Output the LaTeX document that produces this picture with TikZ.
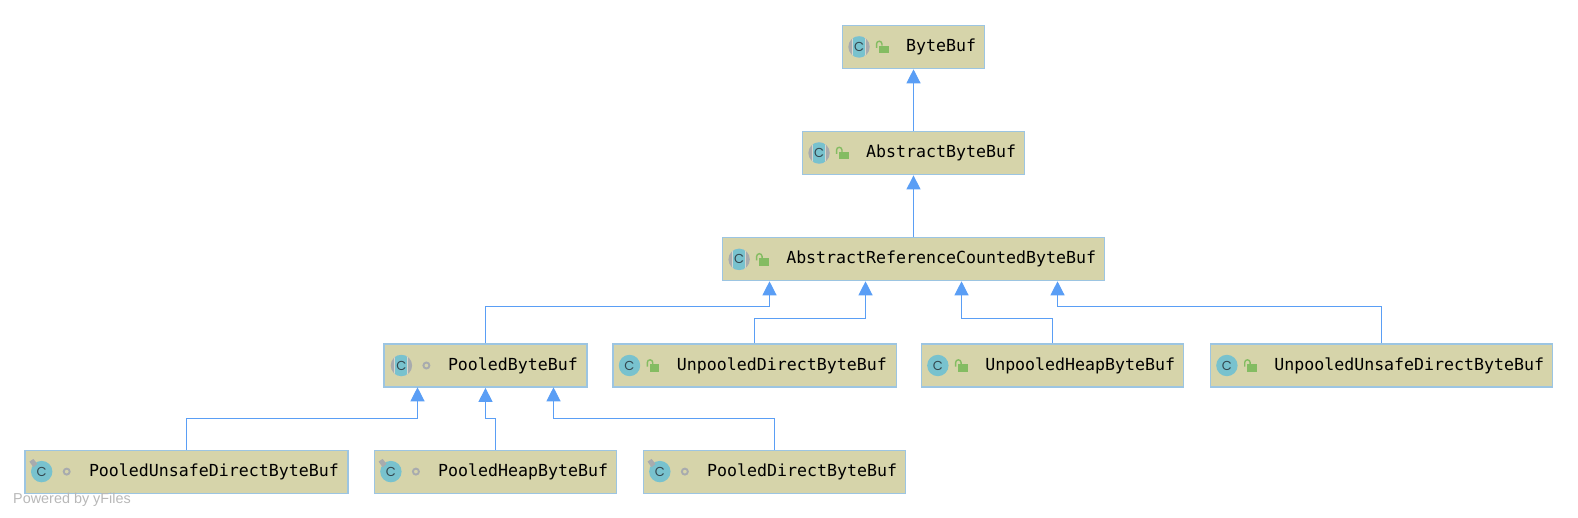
\documentclass[tikz,border=0pt]{standalone}
\usepackage{fontspec}
\setmainfont{Liberation Sans}
\newfontfamily\codefont{DejaVu Sans Mono}
\newfontfamily\iconfont{Poppins}
\usetikzlibrary{arrows.meta}
\definecolor{boxfill}{HTML}{D6D4AA}
\definecolor{boxedge}{HTML}{9CC5E2}
\definecolor{linkblue}{HTML}{5A9EF5}
\definecolor{tealc}{HTML}{78C2CE}
\definecolor{lockgreen}{HTML}{84BC62}
\definecolor{markgrey}{HTML}{A8ABAE}
\definecolor{cletter}{HTML}{33474F}
\newcommand{\boxtext}[2]{\makebox[#1pt][l]{\hspace{64pt}\vphantom{Ap}#2}}
\tikzset{
  x=1pt,y=-1pt,
  cls/.style={draw=boxedge,fill=boxfill,line width=1.2pt,inner sep=0pt,minimum height=43pt,font=\codefont\fontsize{16.6pt}{20pt}\selectfont,text=black},
  ext/.style={draw=linkblue,line width=1.2pt,shorten >=0.3pt,-{Triangle[length=14pt,width=14pt,color=linkblue]}},
  cletter/.style={font=\iconfont\fontsize{13pt}{14pt}\selectfont,text=cletter,inner sep=0pt},
  lockicon/.pic={
    \fill[lockgreen] (-4.7,-1.2) rectangle (4.7,6.3);
    \draw[lockgreen,line width=1.4pt] (-7.3,1) -- (-7.3,-3) arc[start angle=180,end angle=0,x radius=2.7,y radius=-2.7] -- (-1.9,-1.2);
  },
  ringicon/.pic={
    \draw[markgrey,line width=1.9pt] (0,0) circle[radius=3];
  },
  plainc/.pic={
    \fill[tealc] (0,0) circle[radius=10.7];
    \node[cletter] (-c) at (0,0) {C};
  },
  abstractc/.pic={
    \fill[markgrey] (0,0) circle[radius=10.7];
    \begin{scope}
      \clip (0,0) circle[radius=10.7];
      \fill[boxfill!40!markgrey!60!white] (-7,-11) rectangle (7,11);
      \fill[tealc] (-6,-11) rectangle (6,11);
    \end{scope}
    \node[cletter] (-c) at (0,0) {C};
  },
  pinc/.pic={
    \fill[tealc] (0,0) circle[radius=10.7];
    \fill[markgrey] (-12.3,-10) -- (-8.3,-12.7) -- (-4.3,-7.7) -- (-8.3,-4.3) -- cycle;
    \node[cletter] (-c) at (0,0) {C};
  },
}
\begin{document}
\begin{tikzpicture}
\useasboundingbox (0,0) rectangle (1578,518);
% level boxes
\node[cls] (bytebuf) at (913.5,46.9) {\boxtext{142.7}{ByteBuf}};
\node[cls] (abstract) at (913.5,153) {\boxtext{222.7}{AbstractByteBuf}};
\node[cls] (refcounted) at (913.5,259.4) {\boxtext{382.5}{AbstractReferenceCountedByteBuf}};
\node[cls] (pooled) at (485.5,365.5) {\boxtext{203}{PooledByteBuf}};
\node[cls] (updirect) at (754.5,365.5) {\boxtext{283.2}{UnpooledDirectByteBuf}};
\node[cls] (upheap) at (1052.5,365.5) {\boxtext{262.5}{UnpooledHeapByteBuf}};
\node[cls] (upunsafe) at (1381.5,365.5) {\boxtext{342.4}{UnpooledUnsafeDirectByteBuf}};
\node[cls] (punsafe) at (186.5,471.6) {\boxtext{323}{PooledUnsafeDirectByteBuf}};
\node[cls] (pheap) at (495.5,471.6) {\boxtext{242.6}{PooledHeapByteBuf}};
\node[cls] (pdirect) at (774.5,471.6) {\boxtext{262.7}{PooledDirectByteBuf}};
% icons
\pic (i1) at ([xshift=17.5pt]bytebuf.west) {abstractc};
\pic at ([xshift=42.3pt]bytebuf.west) {lockicon};
\pic (i2) at ([xshift=17.5pt]abstract.west) {abstractc};
\pic at ([xshift=42.3pt]abstract.west) {lockicon};
\pic (i3) at ([xshift=17.5pt]refcounted.west) {abstractc};
\pic at ([xshift=42.3pt]refcounted.west) {lockicon};
\pic (i4) at ([xshift=18pt]pooled.west) {abstractc};
\pic at ([xshift=43pt]pooled.west) {ringicon};
\pic (i5) at ([xshift=17.2pt]updirect.west) {plainc};
\pic at ([xshift=42.3pt]updirect.west) {lockicon};
\pic (i6) at ([xshift=17.2pt]upheap.west) {plainc};
\pic at ([xshift=42.3pt]upheap.west) {lockicon};
\pic (i7) at ([xshift=17.2pt]upunsafe.west) {plainc};
\pic at ([xshift=42.3pt]upunsafe.west) {lockicon};
\pic (i8) at ([xshift=17.3pt]punsafe.west) {pinc};
\pic at ([xshift=42.3pt]punsafe.west) {ringicon};
\pic (i9) at ([xshift=17.3pt]pheap.west) {pinc};
\pic at ([xshift=42.3pt]pheap.west) {ringicon};
\pic (i10) at ([xshift=17.3pt]pdirect.west) {pinc};
\pic at ([xshift=42.3pt]pdirect.west) {ringicon};
% target points on lower box edges
\coordinate (rA) at (769.5,281);
\coordinate (rB) at (865.5,281);
\coordinate (rC) at (961.5,281);
\coordinate (rD) at (1057.5,281);
\coordinate (pA) at (417.5,387);
\coordinate (pC) at (553.5,387);
% connectors
\draw[ext] (abstract.north) -- (bytebuf.south);
\draw[ext] (refcounted.north) -- (abstract.south);
\draw[ext] (pooled.north) |- (769.5,306.5) -- (rA);
\draw[ext] (updirect.north) |- (865.5,318.5) -- (rB);
\draw[ext] (upheap.north) |- (961.5,318.5) -- (rC);
\draw[ext] (upunsafe.north) |- (1057.5,306.5) -- (rD);
\draw[ext] (punsafe.north) |- (417.5,418.5) -- (pA);
\draw[ext] (pheap.north) |- (485.5,418.5) -- (pooled.south);
\draw[ext] (pdirect.north) |- (553.5,418.5) -- (pC);
\node[anchor=west,inner sep=0pt,text=black!28,font=\fontsize{14.4pt}{16pt}\selectfont] (credit) at (13,499.5) {Powered by yFiles};
\end{tikzpicture}
\end{document}
